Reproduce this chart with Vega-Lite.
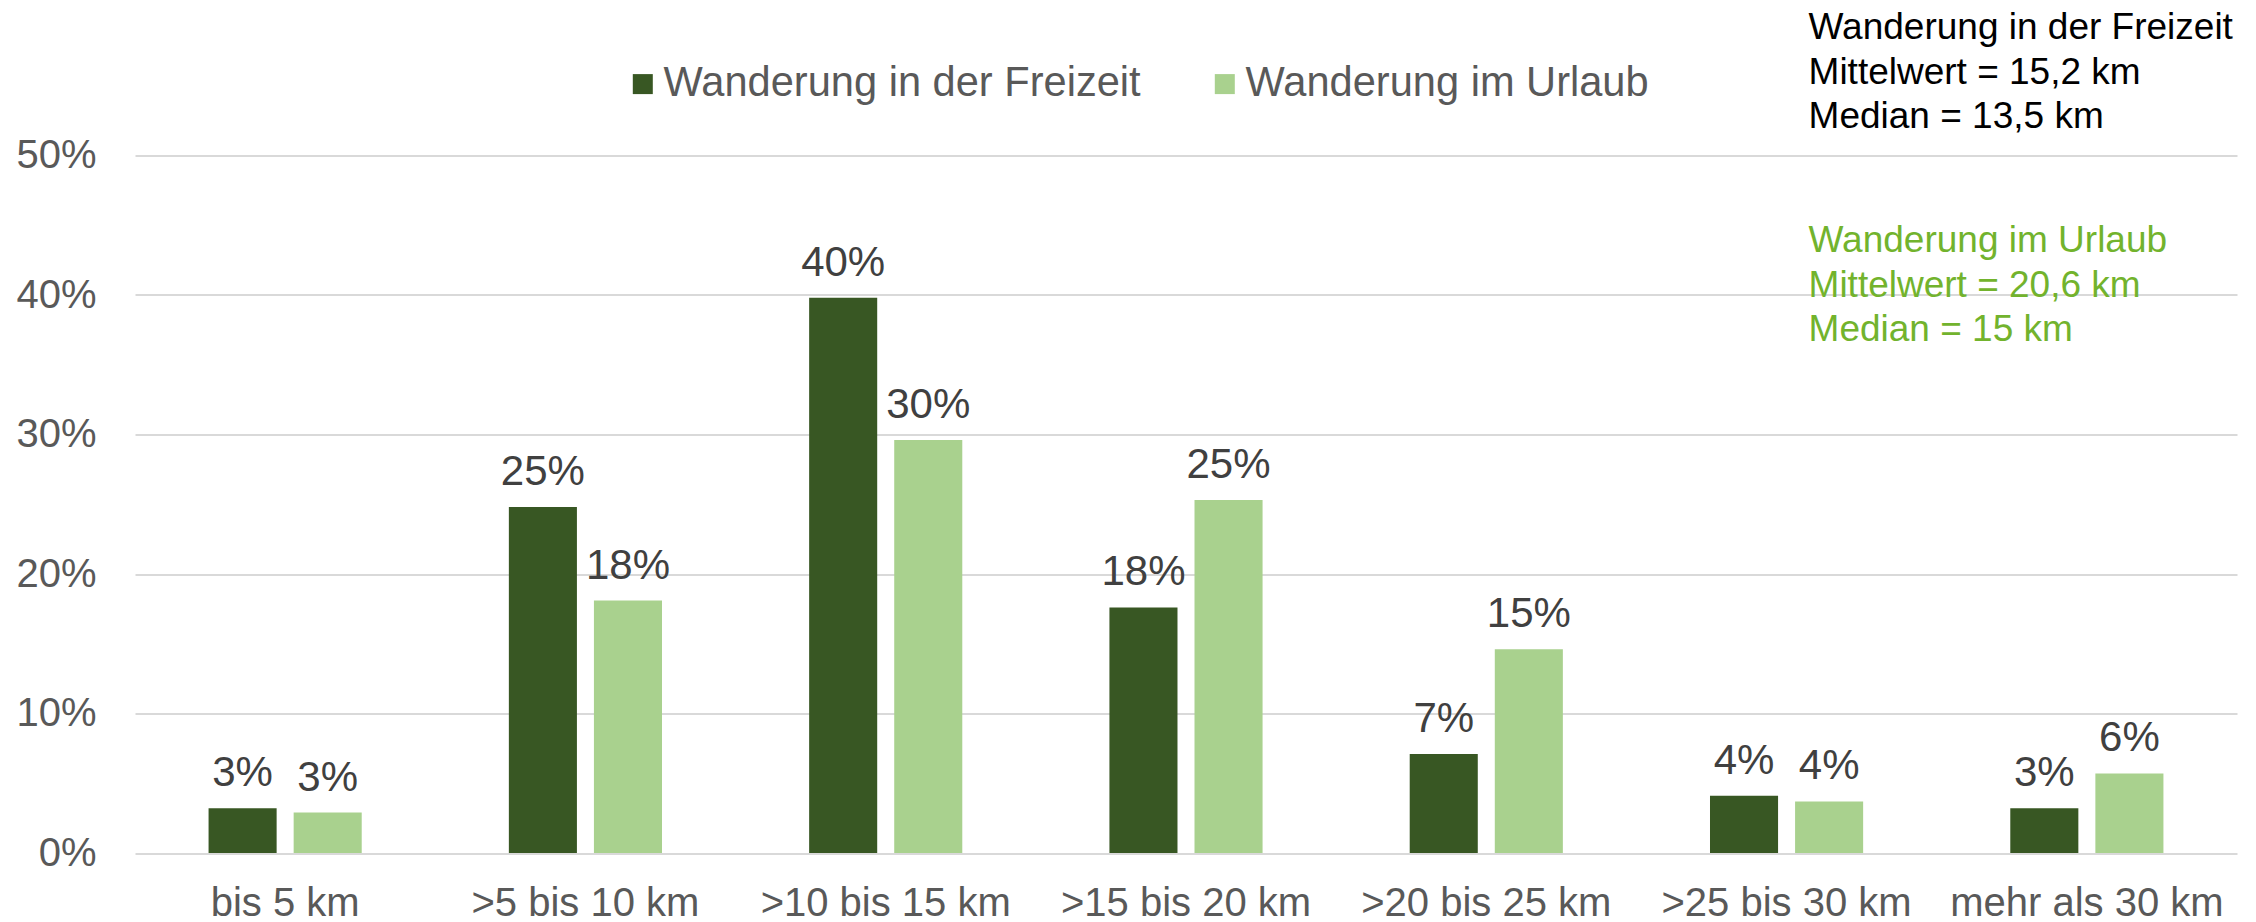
{
  "$schema": "https://vega.github.io/schema/vega-lite/v6.json",
  "width": 2102,
  "height": 697.5,
  "autosize": {"type": "none"},
  "padding": {"left": 135, "top": 155.5, "right": 19, "bottom": 69},
  "background": "white",
  "config": {"view": {"stroke": null}, "font": "Liberation Sans"},
  "datasets": {
    "bars": [
      {"cat": "bis 5 km", "series": "Wanderung in der Freizeit", "value": 0.032},
      {"cat": "bis 5 km", "series": "Wanderung im Urlaub", "value": 0.029},
      {"cat": ">5 bis 10 km", "series": "Wanderung in der Freizeit", "value": 0.248},
      {"cat": ">5 bis 10 km", "series": "Wanderung im Urlaub", "value": 0.181},
      {"cat": ">10 bis 15 km", "series": "Wanderung in der Freizeit", "value": 0.398},
      {"cat": ">10 bis 15 km", "series": "Wanderung im Urlaub", "value": 0.296},
      {"cat": ">15 bis 20 km", "series": "Wanderung in der Freizeit", "value": 0.176},
      {"cat": ">15 bis 20 km", "series": "Wanderung im Urlaub", "value": 0.253},
      {"cat": ">20 bis 25 km", "series": "Wanderung in der Freizeit", "value": 0.071},
      {"cat": ">20 bis 25 km", "series": "Wanderung im Urlaub", "value": 0.146},
      {"cat": ">25 bis 30 km", "series": "Wanderung in der Freizeit", "value": 0.041},
      {"cat": ">25 bis 30 km", "series": "Wanderung im Urlaub", "value": 0.037},
      {"cat": "mehr als 30 km", "series": "Wanderung in der Freizeit", "value": 0.032},
      {"cat": "mehr als 30 km", "series": "Wanderung im Urlaub", "value": 0.057}
    ],
    "notes": [
      {"cat": ">25 bis 30 km", "grp": "Freizeit", "pos": 0.5833, "txt": "Wanderung in der Freizeit\nMittelwert = 15,2 km\nMedian = 13,5 km"},
      {"cat": ">25 bis 30 km", "grp": "Urlaub", "pos": 0.4306, "txt": "Wanderung im Urlaub\nMittelwert = 20,6 km\nMedian = 15 km"}
    ]
  },
  "layer": [
    {
      "data": {"name": "bars"},
      "mark": {"type": "bar"},
      "encoding": {
        "x": {
          "field": "cat", "type": "nominal", "sort": null,
          "scale": {"domain": ["bis 5 km", ">5 bis 10 km", ">10 bis 15 km", ">15 bis 20 km", ">20 bis 25 km", ">25 bis 30 km", "mehr als 30 km"], "paddingInner": 0.49, "paddingOuter": 0.245},
          "axis": {"title": null, "labelAngle": 0, "labelFontSize": 40, "labelColor": "#595959", "domain": false, "ticks": false, "labelPadding": 30, "labelLimit": 0, "labelOverlap": false, "grid": false}
        },
        "xOffset": {
          "field": "series", "type": "nominal",
          "scale": {"domain": ["Wanderung in der Freizeit", "Wanderung im Urlaub"], "paddingInner": 0.2, "paddingOuter": 0}
        },
        "y": {
          "field": "value", "type": "quantitative",
          "scale": {"domain": [0, 0.5], "nice": false},
          "axis": {"title": null, "values": [0, 0.1, 0.2, 0.3, 0.4, 0.5], "format": ".0%", "labelFontSize": 40, "labelColor": "#595959", "domain": false, "ticks": false, "labelPadding": 39, "gridColor": "#D9D9D9", "gridWidth": 2}
        },
        "color": {
          "field": "series", "type": "nominal",
          "scale": {"domain": ["Wanderung in der Freizeit", "Wanderung im Urlaub"], "range": ["#385723", "#A9D18E"]},
          "legend": {"orient": "none", "legendX": 487, "legendY": -92.5, "direction": "horizontal", "title": null, "symbolType": "square", "symbolSize": 400, "symbolStrokeWidth": 0, "labelFontSize": 41.6, "labelColor": "#595959", "labelOffset": 0, "columnPadding": 63, "labelLimit": 0, "padding": 0}
        }
      }
    },
    {
      "data": {"name": "bars"},
      "mark": {"type": "text", "dy": -22, "fontSize": 42, "color": "#404040", "baseline": "alphabetic"},
      "encoding": {
        "x": {"field": "cat", "type": "nominal", "sort": null, "title": null},
        "xOffset": {"field": "series", "type": "nominal"},
        "y": {"field": "value", "type": "quantitative", "scale": {"domain": [0, 0.5], "nice": false}, "title": null},
        "text": {"field": "value", "type": "quantitative", "format": ".0%"}
      }
    },
    {
      "data": {"name": "notes"},
      "transform": [{"filter": "datum.grp == 'Freizeit'"}],
      "mark": {"type": "text", "align": "left", "baseline": "alphabetic", "dx": 22, "fontSize": 37, "lineBreak": "\n", "lineHeight": 44.5, "color": "#000000"},
      "encoding": {
        "x": {"field": "cat", "type": "nominal", "title": null},
        "y": {"field": "pos", "type": "quantitative", "scale": {"domain": [0, 0.5], "nice": false}, "title": null},
        "text": {"field": "txt", "type": "nominal"}
      }
    },
    {
      "data": {"name": "notes"},
      "transform": [{"filter": "datum.grp == 'Urlaub'"}],
      "mark": {"type": "text", "align": "left", "baseline": "alphabetic", "dx": 22, "fontSize": 37, "lineBreak": "\n", "lineHeight": 44.5, "color": "#72B32D"},
      "encoding": {
        "x": {"field": "cat", "type": "nominal", "title": null},
        "y": {"field": "pos", "type": "quantitative", "scale": {"domain": [0, 0.5], "nice": false}, "title": null},
        "text": {"field": "txt", "type": "nominal"}
      }
    }
  ]
}
